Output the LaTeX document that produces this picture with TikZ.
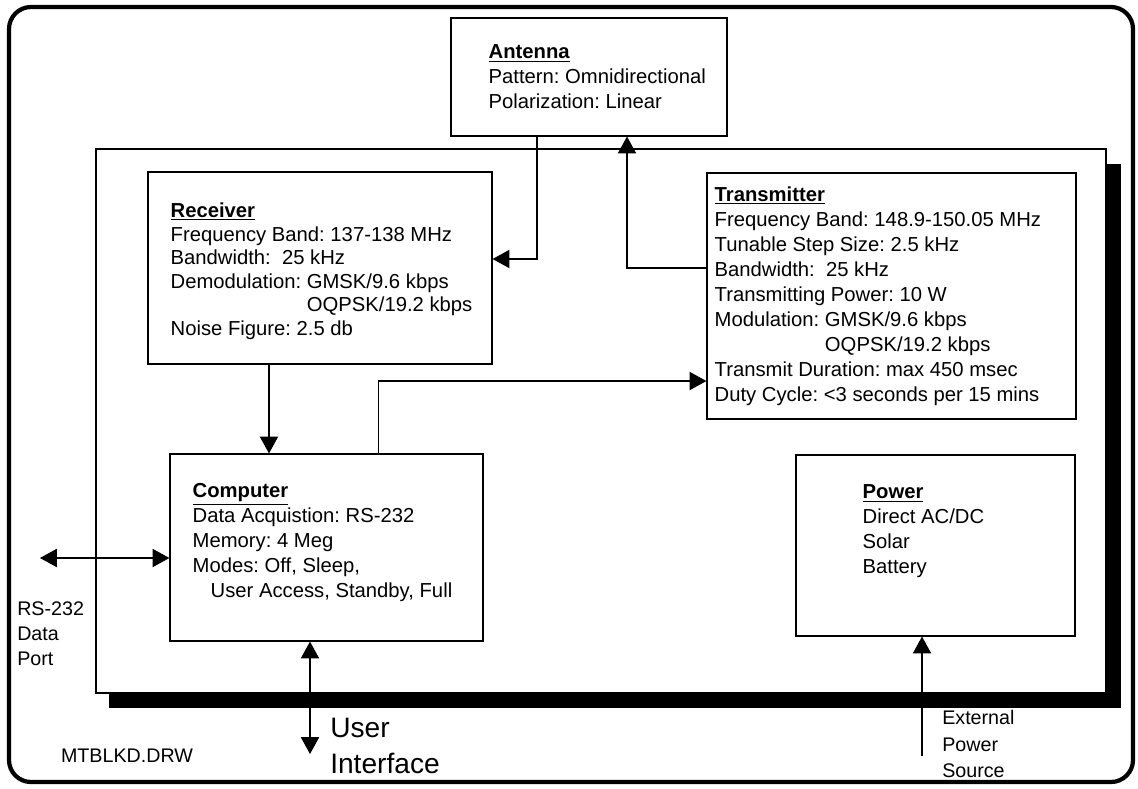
\documentclass[tikz,border=0pt]{standalone}
\usepackage{fontspec}
\setmainfont{Liberation Sans}
\usetikzlibrary{positioning, arrows.meta}
\frenchspacing
\tikzset{sys box/.style={draw, line width=0.8pt, inner sep=0pt},
  box text/.style={align=left, inner sep=0pt, font=\fontsize{14.4}{17.8}\selectfont},
  sig line/.style={line width=0.8pt, -{Triangle[length=12pt,width=13pt]}},
  both line/.style={line width=0.8pt, {Triangle[length=12pt,width=13pt]}-{Triangle[length=12pt,width=13pt]}},
  note/.style={align=left, inner sep=0pt, font=\fontsize{14}{17.8}\selectfont},}

\begin{document}
\begin{tikzpicture}[x=0.025cm, y=-0.025cm]
        \useasboundingbox (0,0) rectangle (1138,789);
        % Frame and board
        \draw[line width=3pt, rounded corners=0.55cm] (9,7) rectangle (1133,782);
        \fill (109,164) rectangle (1121,708);
        \draw[fill=white, line width=0.8pt] (96,149) rectangle (1106,693);
        % Blocks
        \node[sys box, minimum width=6.9cm, minimum height=2.95cm] (ant) at (589,77) {};
        \node[sys box, minimum width=8.6cm, minimum height=4.8cm] (rx) at (320,268) {};
        \node[sys box, minimum width=9.225cm, minimum height=6.15cm] (tx) at (891.5,296) {};
        \node[sys box, minimum width=7.825cm, minimum height=4.675cm] (comp) at (326.5,547.5) {};
        \node[sys box, minimum width=6.975cm, minimum height=4.525cm] (pwr) at (935.5,545.5) {};
        % Block texts
        \node[box text, right=0.95cm of ant.west] (anttext)
            {\underline{\textbf{Antenna}}\\Pattern: Omnidirectional\\Polarization: Linear};
        \node[box text, font=\fontsize{14.4}{16.8}\selectfont, right=0.575cm of rx.west, yshift=-0.08cm] (rxtext)
            {\underline{\textbf{Receiver}}\\Frequency Band: 137-138 MHz\\Bandwidth:\ \ 25 kHz\\Demodulation: GMSK/9.6 kbps\\\phantom{Demodulation: }OQPSK/19.2 kbps\\Noise Figure: 2.5 db};
        \node[box text, right=0.2cm of tx.west] (txtext)
            {\underline{\textbf{Transmitter}}\\Frequency Band: 148.9-150.05 MHz\\Tunable Step Size: 2.5 kHz\\Bandwidth:\ \ 25 kHz\\Transmitting Power: 10 W\\Modulation: GMSK/9.6 kbps\\\phantom{Modulation: }OQPSK/19.2 kbps\\Transmit Duration: max 450 msec\\Duty Cycle: <3 seconds per 15 mins};
        \node[box text, right=0.575cm of comp.west, yshift=0.12cm] (comptext)
            {\underline{\textbf{Computer}}\\Data Acquistion: RS-232\\Memory: 4 Meg\\Modes: Off, Sleep,\\\hspace*{0.45cm}User Access, Standby, Full};
        \node[box text, right=1.675cm of pwr.west, yshift=0.35cm] (pwrtext)
            {\underline{\textbf{Power}}\\Direct AC/DC\\Solar\\Battery};
        % Outside ends
        \coordinate (rsend) at (40,558);
        \coordinate (uiend) at (310,754);
        \coordinate (pwrsrc) at (922,756);
        \path ([xshift=-1.275cm]rx.south) coordinate (rxout);
        % Paths
        \draw[sig line] ([xshift=-1.3cm]ant.south) |- ([yshift=0.225cm]rx.east);
        \draw[sig line] ([yshift=0.7cm]tx.west) -| ([xshift=0.95cm]ant.south);
        \draw[sig line] (rxout) -- (rxout |- comp.north);
        \draw[sig line] ([xshift=1.31cm]comp.north) |- ([yshift=-2.125cm]tx.west);
        \draw[both line] (rsend) -- (rsend -| comp.west);
        \draw[both line] (uiend |- comp.south) -- (uiend);
        \draw[sig line] (pwrsrc) -- (pwrsrc |- pwr.south);
        % Labels
        \node[note, anchor=north west] (rsnote) at (17,601) {RS-232\\Data\\Port};
        \node[note, font=\fontsize{20}{25}\selectfont, right=0.5cm of uiend, yshift=0.2cm] (uinote) {User\\Interface};
        \node[note] (drwname) at (127,756) {MTBLKD.DRW};
        \node[note, font=\fontsize{14}{19}\selectfont, right=0.5cm of pwrsrc, yshift=0.3cm] (srcnote) {External\\Power\\Source};
    \end{tikzpicture}
\end{document}
